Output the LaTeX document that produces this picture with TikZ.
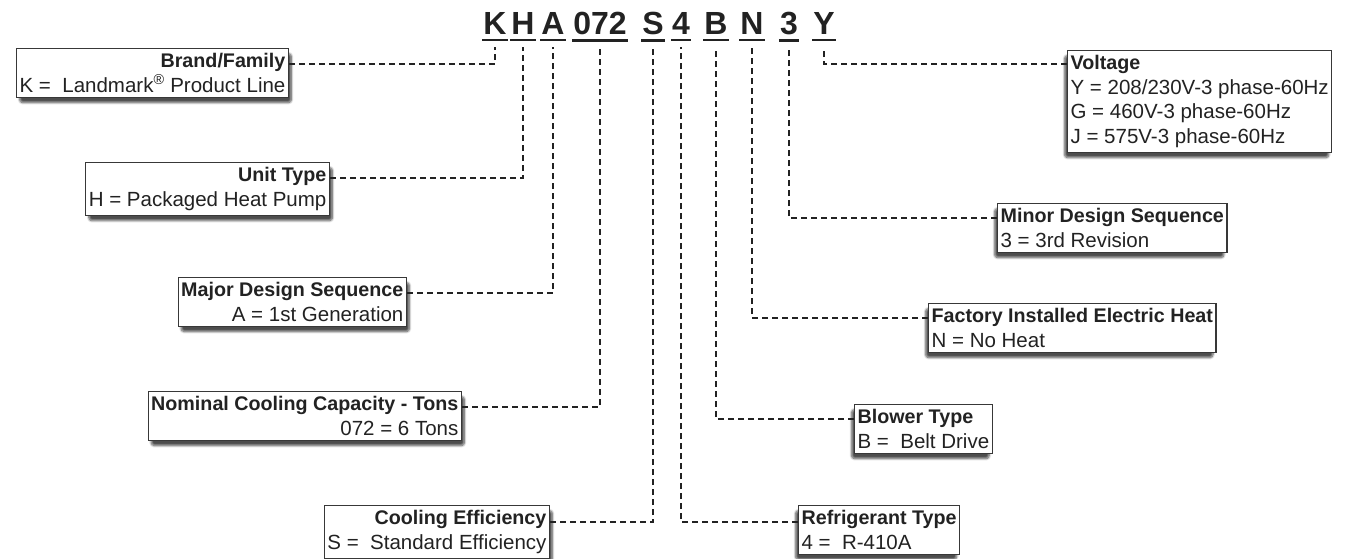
\documentclass[tikz,border=0pt]{standalone}
\usepackage{fontspec}
\setmainfont{Liberation Sans}
\usetikzlibrary{shadows.blur}
\definecolor{ink}{HTML}{222222}
\newcommand{\hdr}[1]{{\fontsize{19.7}{24.5}\selectfont\bfseries #1}}
\begin{document}
\begin{tikzpicture}[x=1pt,y=-1pt,
  box/.style={draw=ink!90, line width=1.2pt, fill=white, text=ink, inner xsep=3pt, inner ysep=5pt,
     font=\fontsize{20.5}{24.5}\selectfont},
  lbox/.style={box, anchor=north east, align=right,
     blur shadow={shadow xshift=3pt, shadow yshift=-5pt, shadow blur steps=8, shadow blur extra rounding=3pt, shadow opacity=70}},
  rbox/.style={box, anchor=north west, align=left,
     blur shadow={shadow xshift=-3pt, shadow yshift=-5pt, shadow blur steps=8, shadow blur extra rounding=3pt, shadow opacity=70}},
  letter/.style={anchor=base, inner sep=0pt, text=ink, font=\fontsize{32}{32}\selectfont\bfseries},
  uline/.style={line width=2.2pt, draw=ink},
  conn/.style={draw=ink, line width=1.8pt, dash pattern=on 6pt off 4pt}
]
\useasboundingbox (0,0) rectangle (1351,558);

% code letters
\node[letter] (lK) at (495,34) {K};
\node[letter] (lH) at (523,34) {H};
\node[letter] (lA) at (553,34) {A};
\node[letter] (l072) at (600,34) {072};
\node[letter] (lS) at (653,34) {S};
\node[letter] (l4) at (681,34) {4};
\node[letter] (lB) at (716,34) {B};
\node[letter] (lN) at (752,34) {N};
\node[letter] (l3) at (789,34) {3};
\node[letter] (lY) at (824,34) {Y};
\foreach \n in {lK,lH,lA,l072,lS,l4,lB,lN,l3,lY}
  \draw[uline] ([yshift=-6pt,xshift=-1pt]\n.south west) -- ([yshift=-6pt,xshift=1pt]\n.south east);

% boxes
\node[lbox] (b1) at (289,48) {\hdr{Brand/Family}\\K =\ \ Landmark\textsuperscript{®} Product Line};
\node[lbox] (b2) at (330,162) {\hdr{Unit Type}\\H = Packaged Heat Pump};
\node[lbox] (b3) at (407,277) {\hdr{Major Design Sequence}\\A = 1st Generation};
\node[lbox] (b4) at (462,391) {\hdr{Nominal Cooling Capacity - Tons}\\072 = 6 Tons};
\node[lbox] (b5) at (550,505) {\hdr{Cooling Efficiency}\\S =\ \ Standard Efficiency};
\node[rbox] (b6) at (798,505) {\hdr{Refrigerant Type}\\4 =\ \ R-410A};
\node[rbox] (b7) at (854,404) {\hdr{Blower Type}\\B =\ \ Belt Drive};
\node[rbox] (b8) at (928,303) {\hdr{Factory Installed Electric Heat}\\N = No Heat};
\node[rbox] (b9) at (997,203) {\hdr{Minor Design Sequence}\\3 = 3rd Revision};
\node[rbox] (b10) at (1067,50) {\hdr{Voltage}\\Y = 208/230V-3 phase-60Hz\\G = 460V-3 phase-60Hz\\J = 575V-3 phase-60Hz};

% connectors
\draw[conn] ([yshift=-16pt]b1.north east) -| ([yshift=-13pt]lK.south);
\draw[conn] ([yshift=-16pt]b2.north east) -| ([yshift=-13pt]lH.south);
\draw[conn] ([yshift=-16pt]b3.north east) -| ([yshift=-13pt]lA.south);
\draw[conn] ([yshift=-16pt]b4.north east) -| ([yshift=-13pt]l072.south);
\draw[conn] ([yshift=-17pt]b5.north east) -| ([yshift=-13pt]lS.south);
\draw[conn] ([yshift=-17pt]b6.north west) -| ([yshift=-13pt]l4.south);
\draw[conn] ([yshift=-15pt]b7.north west) -| ([yshift=-13pt]lB.south);
\draw[conn] ([yshift=-15pt]b8.north west) -| ([yshift=-13pt]lN.south);
\draw[conn] ([yshift=-15pt]b9.north west) -| ([yshift=-13pt]l3.south);
\draw[conn] ([yshift=-14pt]b10.north west) -| ([yshift=-13pt]lY.south);
\end{tikzpicture}
\end{document}
